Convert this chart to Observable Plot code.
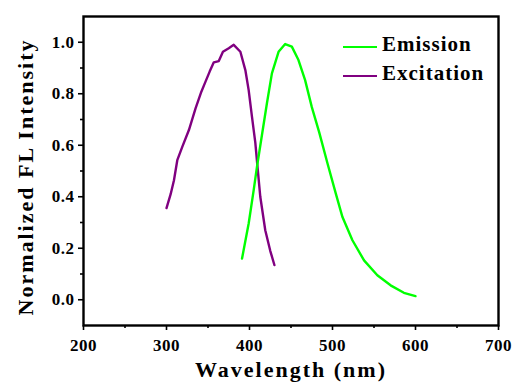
<!DOCTYPE html>
<html>
<head>
<meta charset="utf-8">
<script src="https://cdn.jsdelivr.net/npm/d3@7"></script>
<script src="https://cdn.jsdelivr.net/npm/@observablehq/plot@0.6"></script>
<style>
  body { margin: 0; background: #fff; }
  #wrap { position: relative; width: 515px; height: 385px; }
  .chart text { font-family: "Liberation Serif", "Times New Roman", serif; font-weight: bold; fill: #000; }
  .chart g[aria-label="x-axis tick label"] text,
  .chart g[aria-label="y-axis tick label"] text { font-size: 17px; letter-spacing: 0.5px; }
  .chart .axis-title text { font-size: 22px; letter-spacing: 2px; }
  .legend-row { position: absolute; left: 343px; }
  .legend-row .sw { position: absolute; left: 0; width: 34px; height: 2.4px; }
  .legend-row .lb { position: absolute; left: 39px; font: bold 21px/21px "Liberation Serif", serif; letter-spacing: 1px; color: #000; white-space: nowrap; }
</style>
</head>
<body>
<div id="wrap"></div>
<script>
// Excitation spectrum (purple)
const excitationWl = [300, 305, 309, 313, 319, 327, 335, 342, 347, 352, 357, 363, 368, 375, 381, 389, 395, 399, 403, 407, 410, 413, 419, 425, 430];
const excitationI  = [0.356, 0.41, 0.464, 0.542, 0.594, 0.659, 0.743, 0.808, 0.847, 0.886, 0.922, 0.927, 0.963, 0.977, 0.99, 0.963, 0.892, 0.814, 0.71, 0.61, 0.503, 0.40, 0.27, 0.19, 0.135];

// Emission spectrum (green)
const emissionWl = [391, 399, 405, 409, 415, 421, 427, 435, 443, 451, 459, 467, 475, 484, 494, 504, 512, 524, 538, 554, 570, 586, 600];
const emissionI  = [0.16, 0.296, 0.425, 0.516, 0.64, 0.763, 0.879, 0.963, 0.993, 0.983, 0.931, 0.853, 0.749, 0.65, 0.529, 0.412, 0.321, 0.231, 0.153, 0.095, 0.056, 0.027, 0.014];

const seriesNames = ["Emission", "Excitation"];
const seriesColors = ["#00ff00", "#800080"];

const xTicks = [200, 300, 400, 500, 600, 700];
const xMinor = [250, 350, 450, 550, 650];
const yTicks = [0.0, 0.2, 0.4, 0.6, 0.8, 1.0];
const yMinor = [0.1, 0.3, 0.5, 0.7, 0.9];

const xTitle = "Wavelength (nm)";
const yTitle = "Normalized FL Intensity";

const emission = emissionWl.map((w, i) => ({w, v: emissionI[i]}));
const excitation = excitationWl.map((w, i) => ({w, v: excitationI[i]}));

const chart = Plot.plot({
  className: "chart",
  width: 515,
  height: 385,
  marginLeft: 83,
  marginRight: 17,
  marginTop: 16,
  marginBottom: 60,
  x: {domain: [200, 700]},
  y: {domain: [-0.1, 1.1]},
  marks: [
    Plot.axisX({ticks: xTicks, tickSize: 5, tickPadding: 8, tickFormat: d3.format("d"), label: null, strokeWidth: 1.6}),
    Plot.axisX({ticks: xMinor, tickSize: 3, text: null, label: null, strokeWidth: 1.6}),
    Plot.axisY({ticks: yTicks, tickSize: 5, tickPadding: 4, tickFormat: d3.format(".1f"), label: null, strokeWidth: 1.6}),
    Plot.axisY({ticks: yMinor, tickSize: 3, text: null, label: null, strokeWidth: 1.6}),
    Plot.line(excitation, {x: "w", y: "v", stroke: seriesColors[1], strokeWidth: 2.4}),
    Plot.line(emission, {x: "w", y: "v", stroke: seriesColors[0], strokeWidth: 2.4}),
    Plot.frame({stroke: "#000", strokeWidth: 2.4}),
    Plot.text([xTitle], {frameAnchor: "bottom", textAnchor: "middle", dy: 51, className: "axis-title"}),
    Plot.text([yTitle], {frameAnchor: "left", textAnchor: "middle", rotate: -90, dx: -58, dy: 6, className: "axis-title"})
  ]
});

const wrap = document.getElementById("wrap");
wrap.appendChild(chart);

// legend: colour swatch + series name
const rowTops = [46, 75];
seriesNames.forEach((name, i) => {
  const row = document.createElement("div");
  row.className = "legend-row";
  row.style.top = rowTops[i] + "px";
  const sw = document.createElement("div");
  sw.className = "sw";
  sw.style.background = seriesColors[i];
  sw.style.top = "0px";
  const lb = document.createElement("div");
  lb.className = "lb";
  lb.style.top = "-12px";
  lb.textContent = name;
  row.appendChild(sw);
  row.appendChild(lb);
  wrap.appendChild(row);
});
</script>
</body>
</html>
